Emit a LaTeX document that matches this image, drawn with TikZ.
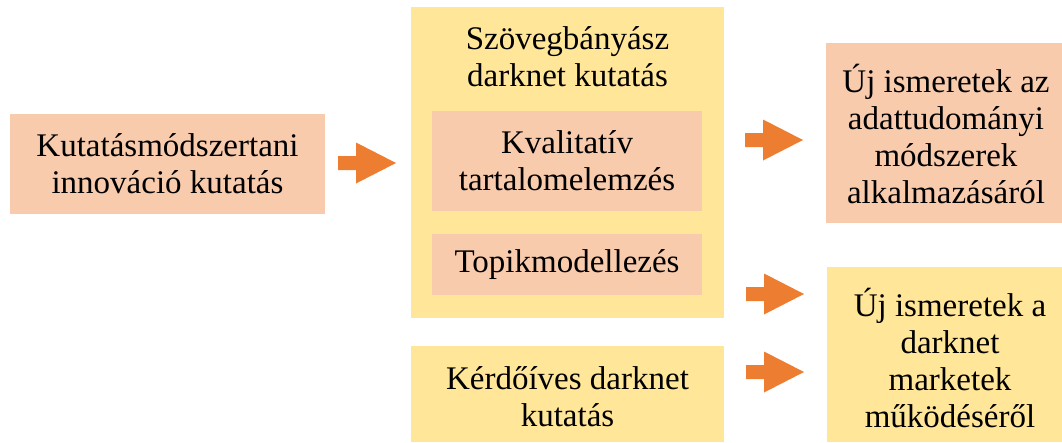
\documentclass[tikz,border=0pt]{standalone}
\usepackage{fontspec}
\setmainfont{Liberation Serif}
\definecolor{peach}{HTML}{F8CBAD}
\definecolor{sand}{HTML}{FFE699}
\definecolor{arroworange}{HTML}{ED7D31}
\tikzset{
  txt/.style={font=\fontsize{33}{37}\selectfont, align=center, text=black},
  peachbox/.style={fill=peach, draw=none, inner sep=0pt},
  sandbox/.style={fill=sand, draw=none, inner sep=0pt},
  blockarrow/.pic={\fill[arroworange] (0,-7) -- (18,-7) -- (18,-20.5) -- (58,0) -- (18,20.5) -- (18,7) -- (0,7) -- cycle;}
}
\begin{document}
\begin{tikzpicture}[x=1pt,y=-1pt]
\useasboundingbox (0,0) rectangle (1062,442);
% left box
\node[peachbox, minimum width=315pt, minimum height=100pt] (left) at (167.5,164) {};
\node[txt] (lefttxt) at (left.center) {Kutatásmódszertani\\innováció kutatás};
% big yellow box
\node[sandbox, minimum width=313pt, minimum height=311pt] (big) at (567.5,162.5) {};
\node[txt] (title) at (567.5,57) {Szövegbányász\\darknet kutatás};
\node[peachbox, minimum width=270pt, minimum height=100pt] (kval) at (567,161) {};
\node[txt] (kvaltxt) at (kval.center) {Kvalitatív\\tartalomelemzés};
\node[peachbox, minimum width=270pt, minimum height=61pt] (topik) at (567,264.5) {};
\node[txt] (topiktxt) at (topik.center) {Topikmodellezés};
% bottom yellow
\node[sandbox, minimum width=313pt, minimum height=96pt] (kerd) at (567.5,394) {};
\node[txt] (kerdtxt) at (567.5,397) {Kérdőíves darknet\\kutatás};
% right boxes
\node[peachbox, minimum width=236pt, minimum height=180pt] (ujtop) at (944,133) {};
\node[txt] (ujtoptxt) at (946,134) {Új ismeretek az\\adattudományi\\módszerek\\alkalmazásáról};
\node[sandbox, minimum width=235pt, minimum height=175pt] (ujbot) at (944.5,354.5) {};
\node[txt] (ujbottxt) at (950,358) {Új ismeretek a\\darknet\\marketek\\működéséről};
% arrows
\pic at (338,163) {blockarrow};
\pic at (745,140) {blockarrow};
\pic at (746,294) {blockarrow};
\pic at (746,372) {blockarrow};
\end{tikzpicture}
\end{document}
